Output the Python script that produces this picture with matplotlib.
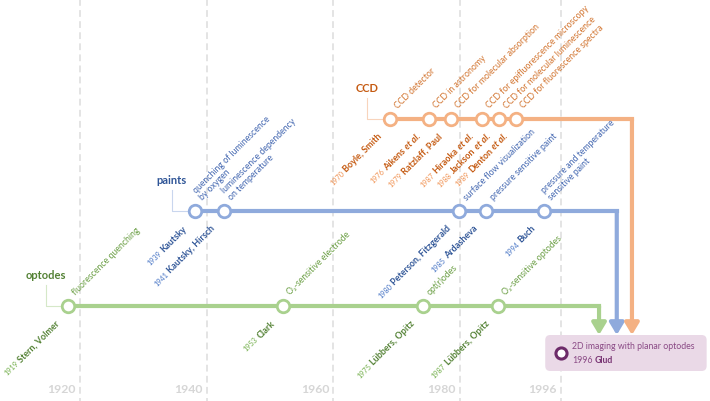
import matplotlib.pyplot as plt
from matplotlib.patches import FancyBboxPatch

plt.rcParams['font.family'] = ['Lato', 'DejaVu Sans']

# timeline axis
axis_years = [1920, 1940, 1960, 1980, 1996]

# optodes
opt_years = [1919, 1953, 1975, 1987]
opt_pos = [1918.1, 1952.1, 1974.2, 1986.0]
opt_names = ["Stern, Volmer", "Clark", "Lübbers, Opitz", "Lübbers, Opitz"]
opt_desc = ["fluorescence quenching", "O₂-sensitive electrode",
            "opt(r)odes", "O₂-sensitive optodes"]

# paints
pnt_years = [1939, 1941, 1980, 1985, 1994]
pnt_pos = [1938.2, 1942.7, 1979.9, 1984.1, 1993.3]
pnt_names = ["Kautsky", "Kautsky, Hirsch", "Peterson, Fitzgerald",
             "Ardasheva", "Buch"]
pnt_desc = ["quenching of luminescence\nby oxygen",
            "luminescence dependency\non temperature",
            "surface flow visualization", "pressure sensitive paint",
            "pressure and temperature\nsensitive paint"]

# CCD
ccd_years = [1970, 1976, 1979, 1987, 1988, 1989]
ccd_pos = [1969.0, 1975.1, 1978.6, 1983.5, 1986.2, 1988.9]
ccd_names = ["Boyle, Smith", "Aikens et al.", "Ratzlaff, Paul",
             "Hiraoka et al.", "Jackson et al.", "Denton et al."]
ccd_desc = ["CCD detector", "CCD in astronomy", "CCD for molecular absorption",
            "CCD for epifluorescence microscopy",
            "CCD for molecular luminescence", "CCD for fluorescence spectra"]

# final result
res_year = 1996
res_name = "Glud"
res_desc = "2D imaging with planar optodes"

xmin, xmax = 1907.36, 2019.53
W, H = 710, 402
ppy = W / (xmax - xmin)

fig = plt.figure(figsize=(W / 100, H / 100), dpi=100)
ax = fig.add_axes([0, 0, 1, 1])
ax.set_xlim(xmin, xmax)
ax.set_ylim(H, 0)
ax.axis('off')
renderer = fig.canvas.get_renderer()

# grid + year labels
ax.vlines(axis_years, 0, H, colors='#e4e4e4', lw=1.4,
          linestyles=(0, (3.5, 2.2)), zorder=0)
for yr in axis_years:
    ax.annotate(str(yr), (yr, 390), xytext=(-4, 0), textcoords='offset pixels',
                ha='right', va='center', fontsize=8.8, fontweight='bold',
                color='#d6d6d6')

c45 = 0.7071


def name_label(x, y, year, name, c_year, c_name):
    pieces = []
    if name.endswith(" et al."):
        pieces = [(str(year), 5.2, 'normal', 'normal', c_year),
                  (name[:-7], 6.5, 'bold', 'normal', c_name),
                  ("et al.", 6.5, 'bold', 'italic', c_name)]
    else:
        pieces = [(str(year), 5.2, 'normal', 'normal', c_year),
                  (name, 6.5, 'bold', 'normal', c_name)]
    off = 0
    for txt, size, weight, style, color in reversed(pieces):
        t = ax.annotate(txt, (x, y), xytext=(-8 - off * c45, -17 - off * c45),
                        textcoords='offset pixels', ha='right', va='baseline',
                        rotation_mode='anchor', fontsize=size,
                        fontweight=weight, fontstyle=style, color=color)
        off += t.get_window_extent(renderer).width + 2.2
        t.set_rotation(45)


def lane(y, pos, years, names, descs, corner_x, label, label_x,
         c_line, c_light, c_name, c_year, c_desc):
    ax.plot([pos[0], corner_x], [y, y], color=c_line, lw=3,
            solid_capstyle='projecting', zorder=2)
    ax.annotate('', xy=(corner_x, 336), xytext=(corner_x, y),
                arrowprops=dict(arrowstyle='-|>,head_length=0.7,head_width=0.42',
                                color=c_line, lw=3, shrinkA=0, shrinkB=0),
                zorder=2)
    ax.plot(pos, [y] * len(pos), 'o', ms=9, mfc='white', mec=c_line, mew=2,
            zorder=4)
    # group label with connector
    ax.text(label_x, y - 31, label, ha='center', va='center', fontsize=8,
            fontweight='bold', color=c_name)
    ax.plot([label_x, label_x, pos[0]], [y - 21, y, y], color=c_light, lw=0.8,
            zorder=1)
    for x, yr, nm, ds in zip(pos, years, names, descs):
        ax.annotate(ds, (x, y), xytext=(9, 10), textcoords='offset pixels',
                    ha='left', va='bottom', rotation=45, rotation_mode='anchor',
                    fontsize=6.3, color=c_desc, linespacing=1.05)
        name_label(x, y, yr, nm, c_year, c_name)


lane(307, opt_pos, opt_years, opt_names, opt_desc, 2002.0, "optodes", 1914.6,
     '#a9d18e', '#d5e8c8', '#548235', '#70ad47', '#6a9e43')
lane(212, pnt_pos, pnt_years, pnt_names, pnt_desc, 2004.8, "paints", 1934.5,
     '#8faadc', '#c9d6ee', '#2f5597', '#4472c4', '#4266b0')
lane(120, ccd_pos, ccd_years, ccd_names, ccd_desc, 2007.2, "CCD", 1965.3,
     '#f4b183', '#f8d4bc', '#c55a11', '#f0904f', '#d2742f')

# result box
box = FancyBboxPatch((1993.5, 336), 25.5, 36,
                     boxstyle='round,pad=0,rounding_size=0.8',
                     mutation_aspect=ppy, fc='#ead9e7', ec='none', zorder=1)
ax.add_patch(box)
ax.plot(res_year, 354, 'o', ms=8, mfc='white', mec='#6d2b69', mew=2.2,
        zorder=4)
ax.text(1997.7, 347, res_desc, ha='left', va='center', fontsize=6.3,
        color='#8a4a85')
t = ax.text(1997.7, 361, str(res_year), ha='left', va='center', fontsize=6.3,
            color='#8a4a85')
w = t.get_window_extent(renderer).width
ax.annotate(res_name, (1997.7, 361), xytext=(w + 2.5, 0),
            textcoords='offset pixels', ha='left', va='center', fontsize=6.3,
            fontweight='bold', color='#7a3675')

fig.savefig('out.png', dpi=100)
